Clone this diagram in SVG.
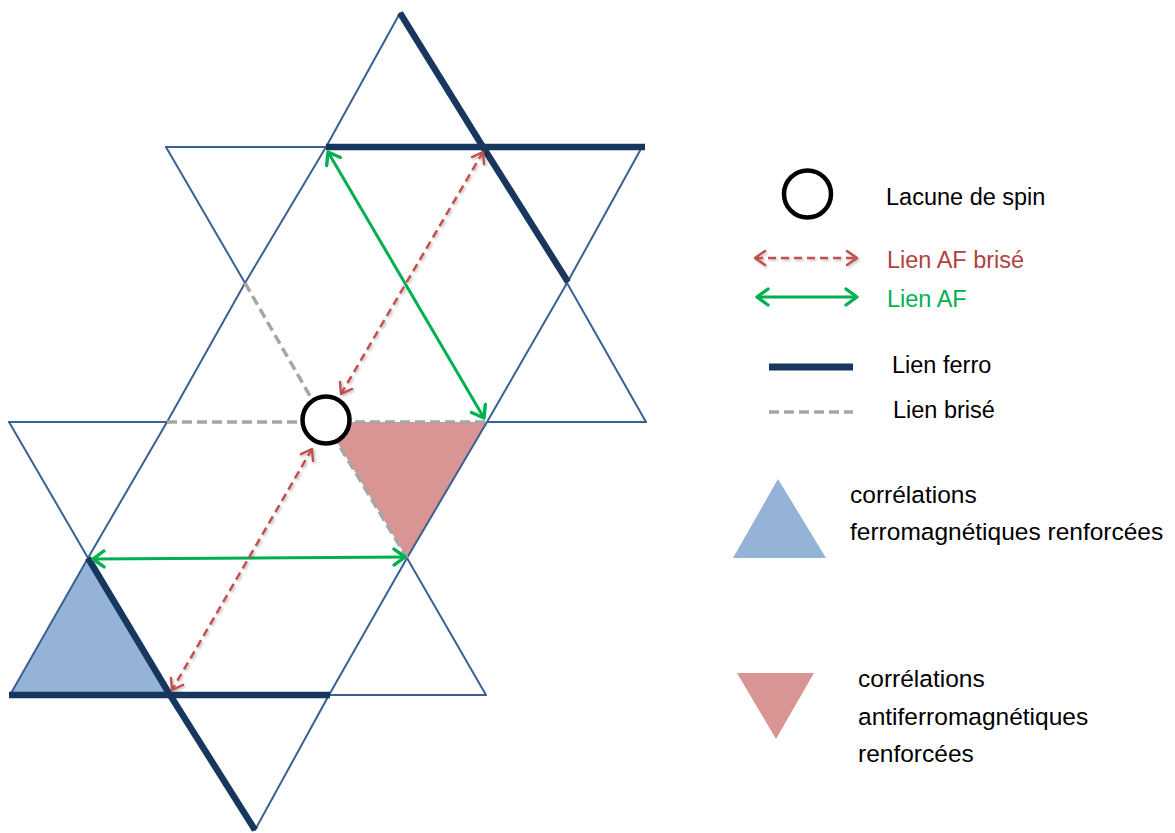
<svg xmlns="http://www.w3.org/2000/svg" width="1175" height="833" viewBox="0 0 1175 833">
<defs>
<style>
.thin{stroke:#3a6193;stroke-width:2;fill:none;stroke-linecap:round}
.thick{stroke:#17375e;stroke-width:6.5;fill:none;stroke-linecap:butt}
.broken{stroke:#a6a6a6;stroke-width:3.5;fill:none;stroke-dasharray:10 5}
.af{stroke:#00b050;stroke-width:3;fill:none;marker-start:url(#gh);marker-end:url(#gh)}
.afb{stroke:#c0504d;stroke-width:2.5;fill:none;stroke-dasharray:8 5;marker-start:url(#rh);marker-end:url(#rh);filter:url(#sh)}
.vac{fill:#fff;stroke:#000;stroke-width:4.5}
text{font-family:"Liberation Sans",Arial,sans-serif;font-size:23.5px;fill:#000}
</style>
<marker id="gh" markerUnits="userSpaceOnUse" viewBox="-14 -10 16 20" refX="0" refY="0" markerWidth="16" markerHeight="20" orient="auto-start-reverse" overflow="visible">
<path d="M-11,-8 L0,0 L-11,8" fill="none" stroke="#00b050" stroke-width="3.4" stroke-linecap="round" stroke-linejoin="round"/>
</marker>
<marker id="rh" markerUnits="userSpaceOnUse" viewBox="-14 -10 16 20" refX="0" refY="0" markerWidth="16" markerHeight="20" orient="auto-start-reverse" overflow="visible">
<path d="M-10,-7 L0,0 L-10,7" fill="none" stroke="#c0504d" stroke-width="2.4" stroke-linecap="round" stroke-linejoin="round"/>
</marker>
<filter id="sh" filterUnits="userSpaceOnUse" x="0" y="0" width="1175" height="833">
<feDropShadow dx="1.5" dy="1.5" stdDeviation="1.2" flood-color="#000" flood-opacity="0.25"/>
</filter>
</defs>
<rect width="1175" height="833" fill="#fff"/>

<g id="fills">
<polygon id="af-triangle" points="325,422 487,422 407,558" fill="#d99594"/>
<polygon id="ferro-triangle" points="88,558 10,695 170,695" fill="#95b3d7"/>
</g>

<g id="lattice">
<g id="thin-bonds">
<line class="thin" x1="400" y1="13" x2="326" y2="147"/>
<line class="thin" x1="166" y1="147" x2="326" y2="147"/>
<line class="thin" x1="166" y1="147" x2="245" y2="283"/>
<line class="thin" x1="326" y1="147" x2="245" y2="283"/>
<line class="thin" x1="642" y1="147" x2="567" y2="283"/>
<line class="thin" x1="567" y1="283" x2="646" y2="422"/>
<line class="thin" x1="567" y1="283" x2="487" y2="422"/>
<line class="thin" x1="487" y1="422" x2="646" y2="422"/>
<line class="thin" x1="245" y1="283" x2="167" y2="422"/>
<line class="thin" x1="9" y1="422" x2="167" y2="422"/>
<line class="thin" x1="9" y1="422" x2="88" y2="558"/>
<line class="thin" x1="167" y1="422" x2="88" y2="558"/>
<line class="thin" x1="487" y1="422" x2="407" y2="558"/>
<line class="thin" x1="88" y1="558" x2="10" y2="695"/>
<line class="thin" x1="407" y1="558" x2="329" y2="695"/>
<line class="thin" x1="407" y1="558" x2="486" y2="695"/>
<line class="thin" x1="329" y1="695" x2="486" y2="695"/>
<line class="thin" x1="329" y1="695" x2="255" y2="830"/>
</g>
<g id="ferro-bonds">
<line class="thick" x1="400" y1="13" x2="483" y2="147"/>
<line class="thick" x1="326" y1="147" x2="645" y2="147"/>
<line class="thick" x1="483" y1="147" x2="568" y2="282"/>
<line class="thick" x1="88" y1="558" x2="170" y2="695"/>
<line class="thick" x1="9" y1="695" x2="330" y2="695"/>
<line class="thick" x1="170" y1="695" x2="255" y2="830"/>
</g>
<g id="broken-bonds">
<line class="broken" x1="245" y1="283" x2="325" y2="422"/>
<line class="broken" x1="167" y1="422" x2="325" y2="422"/>
<line class="broken" x1="325" y1="422" x2="487" y2="422"/>
<line class="broken" x1="325" y1="422" x2="407" y2="558"/>
</g>
</g>

<g id="connectors">
<line class="af" x1="328" y1="152" x2="484" y2="418"/>
<line class="af" x1="93" y1="559" x2="405" y2="557"/>
<line class="afb" x1="483" y1="152" x2="341" y2="394"/>
<line class="afb" x1="312" y1="449" x2="172" y2="690"/>
</g>

<g id="vacancy">
<circle class="vac" cx="326" cy="420" r="23.5"/>
</g>

<g id="legend">
<g id="legend-vacancy">
<circle class="vac" cx="807.5" cy="194" r="23.5"/>
<text x="886" y="205">Lacune de spin</text>
</g>
<g id="legend-afb">
<line class="afb" x1="755" y1="258" x2="857" y2="258"/>
<text x="887" y="268" style="fill:#b0423f">Lien AF brisé</text>
</g>
<g id="legend-af">
<line class="af" x1="757" y1="297" x2="857" y2="297"/>
<text x="887" y="307" style="fill:#00b050">Lien AF</text>
</g>
<g id="legend-ferro">
<line class="thick" x1="769" y1="367" x2="853" y2="367" style="stroke-width:7"/>
<text x="892" y="373">Lien ferro</text>
</g>
<g id="legend-broken">
<line class="broken" x1="769" y1="412" x2="853" y2="412"/>
<text x="893" y="418">Lien brisé</text>
</g>
<g id="legend-ferro-corr">
<polygon points="778,479 733,558 826,558" fill="#95b3d7"/>
<text x="850" y="503" style="font-size:24.5px">corrélations</text>
<text x="850" y="540" style="font-size:24.5px">ferromagnétiques renforcées</text>
</g>
<g id="legend-af-corr">
<polygon points="737,673 814,673 776,739" fill="#d99594"/>
<text x="858" y="687" style="font-size:24.5px">corrélations</text>
<text x="858" y="725" style="font-size:24.5px">antiferromagnétiques</text>
<text x="858" y="762" style="font-size:24.5px">renforcées</text>
</g>
</g>
</svg>
